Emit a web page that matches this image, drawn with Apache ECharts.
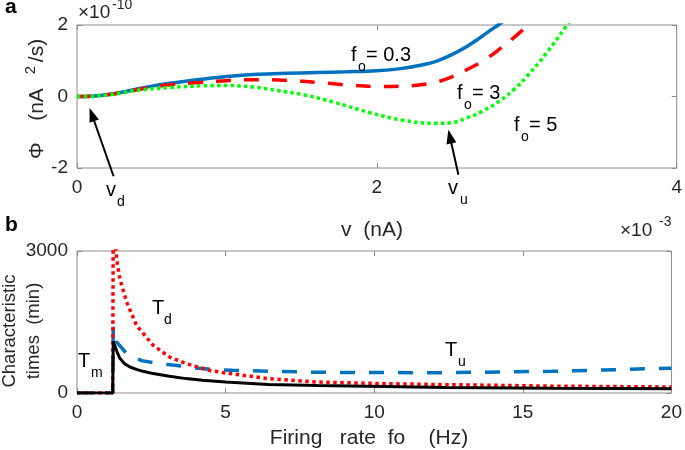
<!DOCTYPE html>
<html><head><meta charset="utf-8">
<script src="https://cdn.jsdelivr.net/npm/echarts@6/dist/echarts.min.js"></script>
<style>html,body{margin:0;padding:0;background:#fff}#c{width:685px;height:450px}</style>
</head><body><div id="c"></div>
<script>
const FONT = '"Liberation Sans", Arial, Helvetica, sans-serif';
// ---------- Panel a : Phi(v), x in 1e-3 nA, y in 1e-10 nA^2/s ----------
const vF03  = [0, 0.1, 0.2, 0.3, 0.4, 0.5, 0.62, 0.75, 0.85, 1.0, 1.2, 1.4, 1.6, 1.8, 2.0, 2.16, 2.3, 2.4, 2.5, 2.6, 2.7, 2.76, 2.81, 2.86];
const phiF03 = [0, 0.01, 0.05, 0.12, 0.21, 0.29, 0.37, 0.44, 0.49, 0.56, 0.62, 0.65, 0.67, 0.69, 0.72, 0.78, 0.88, 0.99, 1.17, 1.40, 1.68, 1.86, 2.0, 2.15];
const vF3   = [0, 0.1, 0.2, 0.3, 0.4, 0.6, 0.82, 1.02, 1.22, 1.4, 1.62, 1.84, 2.02, 2.18, 2.38, 2.5, 2.6, 2.71, 2.82, 2.92, 3.01, 3.06];
const phiF3 = [0, 0.01, 0.05, 0.11, 0.19, 0.32, 0.39, 0.45, 0.47, 0.45, 0.39, 0.31, 0.28, 0.29, 0.39, 0.55, 0.75, 1.0, 1.33, 1.67, 2.0, 2.2];
const vF5   = [0, 0.1, 0.2, 0.3, 0.4, 0.62, 0.84, 1.0, 1.18, 1.33, 1.51, 1.73, 1.96, 2.18, 2.38, 2.5, 2.6, 2.7, 2.82, 2.92, 3.0, 3.13, 3.26, 3.3];
const phiF5 = [0, 0.01, 0.04, 0.1, 0.17, 0.25, 0.30, 0.31, 0.26, 0.17, 0.05, -0.18, -0.46, -0.67, -0.75, -0.73, -0.6, -0.42, -0.12, 0.22, 0.56, 1.21, 1.95, 2.2];
const xTicksA = [0, 2, 4];
const yTicksA = [-2, 0, 2];
// ---------- Panel b : characteristic times vs firing rate ----------
const fTm = [0, 1.2, 1.22, 1.35, 1.44, 1.6, 1.78, 2.0, 2.22, 2.56, 3.11, 3.67, 4.22, 5.0, 6.44, 8.1, 10.3, 12.4, 16, 20];
const tm  = [0, 0, 1090, 866, 733, 620, 549, 500, 458, 410, 353, 304, 268, 232, 177, 156, 135, 114, 100, 92];
const fTd = [0, 1.2, 1.22, 1.3, 1.33, 1.44, 1.67, 2.0, 2.56, 3.11, 3.67, 4.44, 5.0, 6.44, 8.1, 10.3, 12.4, 16, 20];
const td  = [0, 0, 3600, 3100, 2840, 2417, 1923, 1430, 1008, 761, 621, 480, 423, 304, 232, 198, 177, 145, 127];
const fTu = [0, 1.2, 1.22, 1.33, 1.67, 2.17, 2.56, 3.06, 3.5, 4.0, 4.5, 5.22, 8.1, 11.4, 12.3, 16, 20];
const tu  = [0, 0, 1395, 1078, 832, 684, 641, 600, 571, 528, 500, 480, 437, 430, 430, 458, 525];
const xTicksB = [0, 5, 10, 15, 20];
const yTicksB = [0, 3000];

const pairs = (xs, ys) => xs.map((x, i) => [x, ys[i]]);
const GRID_C = '#8c8c8c', TXT = '#262626';
const tickStyle = { show: true, inside: true, length: 5, lineStyle: { color: GRID_C, width: 1 } };
const lbl = (m) => ({ fontSize: 19, fontFamily: FONT, color: TXT, margin: m, formatter: v => String(v) });

function xAx(grid, min, max, interval, pos, showLabel) {
  return { type: 'value', gridIndex: grid, min, max, interval, position: pos,
    axisLine: { show: false, onZero: false }, axisTick: tickStyle, splitLine: { show: false },
    axisLabel: showLabel ? lbl(10) : { show: false } };
}
function yAx(grid, min, max, interval, pos, showLabel) {
  return { type: 'value', gridIndex: grid, min, max, interval, position: pos,
    axisLine: { show: false, onZero: false }, axisTick: tickStyle, splitLine: { show: false },
    axisLabel: showLabel ? lbl(9) : { show: false } };
}
function line(name, data, xi, yi, color, width, dash, z, smooth) {
  return { name, type: 'line', xAxisIndex: xi, yAxisIndex: yi, data, symbol: 'none', smooth: smooth || false,
    clip: true, z: z, lineStyle: { color, width, type: dash, cap: 'butt' }, animation: false };
}

const chart = echarts.init(document.getElementById('c'));
chart.setOption({
  animation: false,
  backgroundColor: '#fff',
  grid: [
    { left: 77, top: 25, width: 600, height: 143, show: true, borderColor: GRID_C, borderWidth: 1, containLabel: false },
    { left: 77, top: 251, width: 600, height: 142, show: true, borderColor: GRID_C, borderWidth: 1, containLabel: false }
  ],
  xAxis: [
    xAx(0, xTicksA[0], xTicksA[xTicksA.length - 1], xTicksA[1] - xTicksA[0], 'bottom', true),
    xAx(0, xTicksA[0], xTicksA[xTicksA.length - 1], xTicksA[1] - xTicksA[0], 'top', false),
    xAx(1, xTicksB[0], xTicksB[xTicksB.length - 1], xTicksB[1] - xTicksB[0], 'bottom', true),
    xAx(1, xTicksB[0], xTicksB[xTicksB.length - 1], xTicksB[1] - xTicksB[0], 'top', false)
  ],
  yAxis: [
    yAx(0, yTicksA[0], yTicksA[yTicksA.length - 1], yTicksA[1] - yTicksA[0], 'left', true),
    yAx(0, yTicksA[0], yTicksA[yTicksA.length - 1], yTicksA[1] - yTicksA[0], 'right', false),
    yAx(1, yTicksB[0], yTicksB[yTicksB.length - 1], yTicksB[1] - yTicksB[0], 'left', true),
    yAx(1, yTicksB[0], yTicksB[yTicksB.length - 1], yTicksB[1] - yTicksB[0], 'right', false)
  ],
  series: [
    line('f0=0.3', pairs(vF03, phiF03), 0, 0, '#0072BD', 3.5, 'solid', 2, 0.4),
    line('f0=3', pairs(vF3, phiF3), 0, 0, '#FF0000', 3.5, [15, 13], 3, 0.4),
    line('f0=5', pairs(vF5, phiF5), 0, 0, '#00FF00', 3.5, [3.5, 3.2], 4, 0.4),
    line('Tu', pairs(fTu, tu), 2, 2, '#0072BD', 3.5, [15, 14], 2),
    line('Td', pairs(fTd, td), 2, 2, '#FF0000', 3.5, [3.5, 3.5], 3),
    line('Tm', pairs(fTm, tm), 2, 2, '#000000', 3, 'solid', 4)
  ]
});

// ---------- annotations ----------
const G = [];
function txt(s, x, y, size, opts) {
  opts = opts || {};
  G.push(Object.assign({ type: 'text', x, y, z: 100, silent: true,
    style: Object.assign({ text: s, fontSize: size, fontFamily: FONT, fill: '#000',
      textAlign: 'left', textVerticalAlign: 'bottom' }, opts.style || {}) },
    opts.rot ? { rotation: opts.rot } : {}));
}
const R = Math.PI / 2;
// panel letters
txt('a', 5, 18, 21, { style: { fontWeight: 'bold' } });
txt('b', 5, 236, 21, { style: { fontWeight: 'bold' } });
// exponent labels
txt('\u00d710', 78, 22, 19, { style: { fill: TXT } });
txt('-10', 112, 12, 14, { style: { fill: TXT } });
txt('\u00d710', 620, 240, 19, { style: { fill: TXT } });
txt('-3', 659, 229, 14, { style: { fill: TXT } });
// axis titles
txt('v  (nA)', 372, 241, 21, { style: { fill: TXT, textAlign: 'center' } });
txt('Firing   rate  fo    (Hz)', 369, 449, 21, { style: { fill: TXT, textAlign: 'center' } });
// rotated y title panel a (pieces)
const MID = { fill: TXT, textAlign: 'center', textVerticalAlign: 'middle' };
txt('\u03a6', 37, 150.5, 21, { rot: R, style: MID });
txt('(nA', 37, 104.5, 21, { rot: R, style: MID });
txt('2', 31, 70, 15, { rot: R, style: MID });
txt('/s)', 37, 50.5, 21, { rot: R, style: MID });
// rotated y title panel b
txt('Characteristic', 19, 331, 18.5, { rot: R, style: { fill: TXT, textAlign: 'center' } });
txt('times  (min)', 43, 331, 18.5, { rot: R, style: { fill: TXT, textAlign: 'center' } });
// curve labels
function sub(main, s, rest, x, y, w) {
  txt(main, x, y, 20);
  txt(s, x + w, y + 9, 14);
  if (rest) txt(rest, x + w + 8, y, 20);
}
sub('f', 'o', '= 0.3', 351, 65, 7);
sub('f', 'o', '= 3', 457, 103, 7);
sub('f', 'o', '= 5', 514, 135, 7);
sub('v', 'd', '', 106, 200, 11);
sub('v', 'u', '', 448, 198, 12);
sub('T', 'm', '', 78, 371, 13);
sub('T', 'd', '', 152, 318, 12);
sub('T', 'u', '', 445, 360, 13);

// arrows (data coordinates of panel a)
const arrowsA = [ { tip: [0.084, -0.32], tail: [0.244, -2.23] }, { tip: [2.477, -0.93], tail: [2.544, -2.19] } ];
arrowsA.forEach(a => {
  const p = chart.convertToPixel({ xAxisIndex: 0, yAxisIndex: 0 }, a.tip);
  const q = chart.convertToPixel({ xAxisIndex: 0, yAxisIndex: 0 }, a.tail);
  const dx = p[0] - q[0], dy = p[1] - q[1], L = Math.hypot(dx, dy);
  const ux = dx / L, uy = dy / L, nx = -uy, ny = ux, hl = 14, hw = 5;
  G.push({ type: 'line', z: 100, silent: true, shape: { x1: q[0], y1: q[1], x2: p[0] - ux * hl * 0.8, y2: p[1] - uy * hl * 0.8 },
    style: { stroke: '#000', lineWidth: 2 } });
  G.push({ type: 'polygon', z: 100, silent: true, shape: { points: [ [p[0], p[1]],
    [p[0] - ux * hl + nx * hw, p[1] - uy * hl + ny * hw], [p[0] - ux * hl - nx * hw, p[1] - uy * hl - ny * hw] ] },
    style: { fill: '#000' } });
});
chart.setOption({ graphic: G });
</script></body></html>
